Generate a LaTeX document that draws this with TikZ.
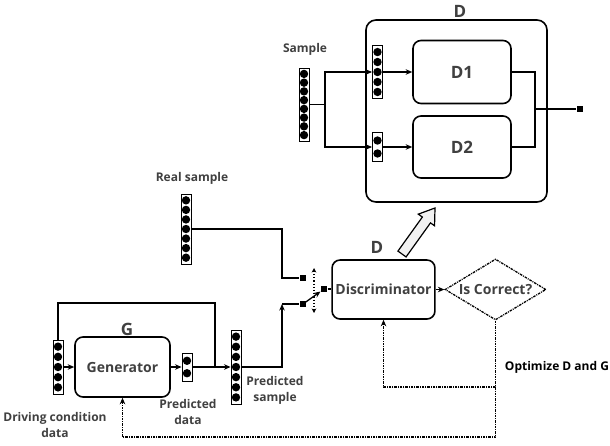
\documentclass[tikz,border=0pt]{standalone}
\usepackage{fontspec}
\setmainfont{Open Sans}
\usetikzlibrary{arrows.meta, positioning, calc, shapes.geometric}
\definecolor{txtgray}{HTML}{404040}
\definecolor{arrowfill}{HTML}{F2F2F2}

% vector of dots: name, position, number of dots, height
\newcommand{\dotvec}[4]{%
  \node[vecbox, minimum height=#4pt] (#1) at (#2) {};
  \path ($(#1.north)+(0,2)$) coordinate (#1-t) ($(#1.south)+(0,-2)$) coordinate (#1-b);
  \foreach \k in {1,...,#3}
    \fill ($(#1-t)!{(\k-0.5)/#3}!(#1-b)$) circle (4.2pt);
}

\begin{document}
\begin{tikzpicture}[x=1pt, y=-1pt, line width=1.6pt, >={Stealth[length=6.5pt, width=5.5pt]},
  block/.style={draw, rounded corners=8pt, line width=1.6pt, text=txtgray,
    font=\fontsize{14}{16}\selectfont\bfseries},
  vecbox/.style={draw, line width=0.9pt, minimum width=10pt, inner sep=0pt},
  lbl/.style={text=txtgray, font=\fontsize{12}{16}\selectfont\bfseries, align=center},
  ttl/.style={text=txtgray, font=\fontsize{17}{19}\selectfont\bfseries},
  fb/.style={dash pattern=on 2.5pt off 1pt on 1pt off 1pt, line width=1.3pt},
  sq/.style={fill, minimum size=5.5pt, inner sep=0pt}]

\useasboundingbox (0,0) rectangle (610,445);

%% UPPER PART: D = D1 + D2
\node[block, minimum width=181pt, minimum height=182pt, rounded corners=10pt] (outerD) at (456.5,111) {};
\node[ttl] (labD) at (460,11) {D};
\node[block, minimum width=98pt, minimum height=63pt, font=\fontsize{17}{19}\selectfont\bfseries] (d1) at (462,72) {D1};
\node[block, minimum width=98pt, minimum height=62pt, font=\fontsize{17}{19}\selectfont\bfseries] (d2) at (462,147) {D2};

% input vectors of D1 and D2
\dotvec{vD1}{377.5,72}{5}{53}
\dotvec{vD2}{377.5,147}{2}{29}

% sample splits into both
\dotvec{vSmp}{304,104.5}{8}{73}
\node[lbl] (labSmp) at (305,49) {Sample};
\coordinate (brS) at (325,104.5);
\draw (vSmp.east) -- (brS);
\draw[->] (brS) |- (vD1.west);
\draw[->] (brS) |- (vD2.west);
\draw[->] (vD1.east) -- (d1.west);
\draw[->] (vD2.east) -- (d2.west);

% outputs merged
\coordinate (mgD) at (535,109);
\node[sq] (outSq) at (580,109) {};
\draw (d1.east) -- (d1.east -| mgD) -- (d2.east -| mgD) -- (d2.east);
\draw (mgD) -- (outSq);

% hollow arrow: discriminator -> D
\coordinate (hb) at (402,254);
\coordinate (ht) at (435,208);
\coordinate (hh) at ($(hb)!0.74!(ht)$);
\draw[line width=1.2pt, fill=arrowfill] ($(hb)!5pt!90:(ht)$) -- ($(hh)!5pt!90:(ht)$) -- ($(hh)!10pt!90:(ht)$)
  -- (ht) -- ($(hh)!10pt!-90:(ht)$) -- ($(hh)!5pt!-90:(ht)$) -- ($(hb)!5pt!-90:(ht)$) -- cycle;

%% DISCRIMINATOR
\node[block, minimum width=95pt, minimum height=59pt] (disc) at (383.5,289.5) {Discriminator};
\node[ttl] (labDisc) at (377,247) {D};
\node[diamond, draw, fb, aspect=1.65, minimum width=101pt, minimum height=61pt, inner sep=0pt,
      text=txtgray, font=\fontsize{14}{16}\selectfont\bfseries] (chk) at (495.5,289.5) {Is Correct?};
\draw[->] (disc.east) -- (chk.west);

% switch
\node[sq] (sqR) at (303,278) {};
\node[sq] (sqP) at (303,304) {};
\node[sq] (sqO) at (324,289) {};
\coordinate (swT) at (314,268);
\coordinate (swB) at (314,313);
\draw[<->, dotted, line width=1.2pt, >={Stealth[length=4.5pt, width=4.5pt]}] (swT) -- (swB);
\draw[->, line width=1.3pt] (sqP.center) -- (sqO);
\draw (sqO) -- (disc.west |- sqO);

% real sample
\dotvec{vReal}{186,229}{7}{70}
\node[lbl] (labReal) at (192,178) {Real sample};
\coordinate (crR) at (282,229);
\draw (vReal.east) -- (crR) |- (sqR);

%% GENERATOR
\node[block, minimum width=95pt, minimum height=60pt] (gen) at (122.5,367) {Generator};
\node[ttl] (labG) at (127,329) {G};
\dotvec{vDrv}{58,367}{5}{54}
\node[lbl] (labDrv) at (55,425) {Driving condition\\data};
\dotvec{vPD}{187,367}{2}{28}
\node[lbl] (labPD) at (188,412) {Predicted\\data};
\dotvec{vPS}{236,367}{7}{74}
\node[lbl] (labPS) at (275,390) {Predicted\\sample};
\draw[->] (vDrv.east) -- (gen.west);
\draw[->] (gen.east) -- (vPD.west);
\draw[->] (vPD.east) -- (vPS.west);

% condition data also goes to predicted sample
\coordinate (lpB) at (215,303);
\coordinate (lpC) at (215,367);
\draw (vDrv.north) |- (lpB) -- (lpC);

% predicted sample to switch
\coordinate (crP) at (282,304);
\draw[->] (vPS.east) -| (crP);
\draw (crP) -- (sqP);

%% FEEDBACK
\coordinate (fb1) at (495.5,387);
\coordinate (fb2) at (495.5,437);
\draw[fb, ->] (chk.south) -- (fb1) -| (disc.south);
\draw[fb, ->] (fb1) -- (fb2) -| (gen.south);
\node[font=\fontsize{12}{14}\selectfont\bfseries] (labOpt) at (557,367) {Optimize D and G};

\end{tikzpicture}
\end{document}
